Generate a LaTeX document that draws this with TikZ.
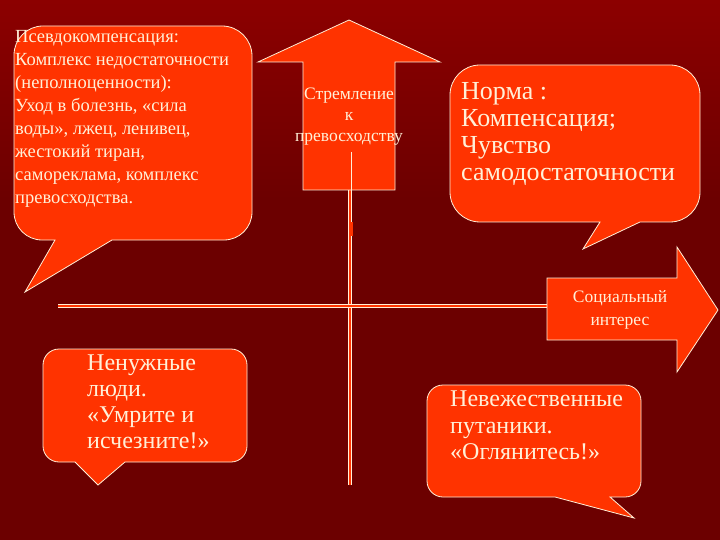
\documentclass[tikz,border=0pt]{standalone}
\usepackage{fontspec}
\setmainfont{Liberation Serif}
\begin{document}
\begin{tikzpicture}[x=1pt,y=-1pt,
  shp/.style={fill=orng,draw=cream,line width=0.8pt},
  txt/.style={text=cream,align=left,inner sep=0pt,anchor=north west},
  ctxt/.style={text=cream,align=center,inner sep=0pt},
  axis/.style={draw=cream,line width=1.4pt,double=orng,double distance=1.6pt}]
\definecolor{orng}{HTML}{FF3300}
\definecolor{cream}{HTML}{FFF0D8}
\definecolor{bgtop}{HTML}{8C0000}
\definecolor{bgbot}{HTML}{6C0000}
\useasboundingbox (0,0) rectangle (720,540);
\fill[bgbot] (0,0) rectangle (720,540);
\shade[top color=bgtop,bottom color=bgbot] (0,0) rectangle (720,200);
% axes
\coordinate (vt) at (350,155); \coordinate (vb) at (350,485);
\coordinate (hl) at (58,306); \coordinate (hr) at (560,306);
\draw[axis] (vt) -- (vb);
\draw[axis] (hl) -- (hr);
% top-left callout
\draw[shp] (14,55) arc(180:270:29) -- (222,26) arc(270:360:30) -- (252,212) arc(0:90:28)
  -- (112,240) -- (25,292) -- (55,240) -- (42,240) arc(90:180:28) -- cycle;
\node[txt,font=\fontsize{18.5}{23}\selectfont] (tl) at (15,30) {Псевдокомпенсация:\\Комплекс недостаточности\\(неполноценности):\\Уход в болезнь, «сила\\воды», лжец, ленивец,\\жестокий тиран,\\самореклама, комплекс\\превосходства.};
% up arrow
\draw[shp] (303,190) -- (303,62) -- (258,62) -- (349,20) -- (440,62) -- (395,62) -- (395,190) -- cycle;
\node[ctxt,font=\fontsize{17.5}{21}\selectfont] (up) at (349,117) {Стремление\\к\\превосходству};
\draw[cream,line width=1pt] (351,152) -- (351,232);
\fill[orng] (349,222) rectangle (353,236);
% top-right callout
\draw[shp] (450,95) arc(180:270:30) -- (670,65) arc(270:360:30) -- (700,192) arc(0:90:30)
  -- (640,222) -- (583,249) -- (600,222) -- (480,222) arc(90:180:30) -- cycle;
\node[txt,font=\fontsize{26}{27}\selectfont] (tr) at (461,82) {Норма :\\Компенсация;\\Чувство\\самодостаточности};
% right arrow
\draw[shp] (547,278) -- (677,278) -- (677,247) -- (718,310) -- (677,372) -- (677,340) -- (547,340) -- cycle;
\node[ctxt,font=\fontsize{17.5}{23}\selectfont] (ri) at (620,310) {Социальный\\интерес};
% bottom-left callout
\draw[shp] (43,365) arc(180:270:16) -- (231,349) arc(270:360:16) -- (247,446) arc(0:90:16)
  -- (125,462) -- (98,485) -- (75,462) -- (59,462) arc(90:180:16) -- cycle;
\node[txt,font=\fontsize{24}{26}\selectfont] (bl) at (87,355) {Ненужные\\люди.\\«Умрите и\\исчезните!»};
% bottom-right callout
\draw[shp] (427,401) arc(180:270:16) -- (625,385) arc(270:360:16) -- (641,481) arc(0:90:16)
  -- (610,497) -- (634,518) -- (555,497) -- (443,497) arc(90:180:16) -- cycle;
\node[txt,font=\fontsize{24}{26.5}\selectfont] (br) at (450,391) {Невежественные\\путаники.\\«Оглянитесь!»};
\end{tikzpicture}
\end{document}
